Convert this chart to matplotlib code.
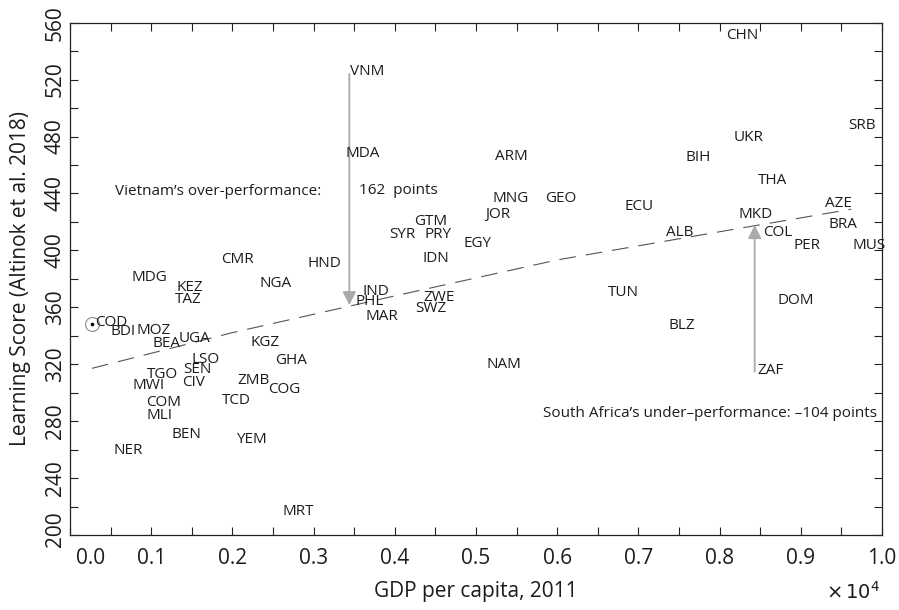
import numpy as np
import matplotlib
matplotlib.use("Agg")
import matplotlib.pyplot as plt
from matplotlib.ticker import MultipleLocator, FuncFormatter

plt.rcParams['font.family'] = ['Open Sans', 'DejaVu Sans']

# ---------------- data ----------------
codes = ["CHN", "SRB", "UKR", "BIH", "THA", "ECU", "AZE", "MKD", "BRA", "ALB",
         "COL", "PER", "MUS", "TUN", "DOM", "BLZ", "ZAF",
         "VNM", "MDA", "ARM", "MNG", "GEO", "JOR", "GTM", "SYR", "PRY",
         "EGY", "IDN", "IND", "PHL", "ZWE", "SWZ", "MAR", "NAM",
         "CMR", "HND", "MDG", "KEZ", "NGA", "TAZ", "COD", "BDI", "MOZ",
         "BEA", "UGA", "KGZ", "LSO", "GHA", "TGO", "SEN", "MWI", "CIV",
         "ZMB", "COG", "TCD", "COM", "MLI", "BEN", "YEM", "NER", "MRT"]
gdp = [8084, 9581, 8177, 7583, 8473, 6831, 9294, 8227, 9347, 7336,
       8534, 8916, 9631, 6626, 8707, 7365, 8461,
       3453, 3392, 5230, 5209, 5846, 5116, 4233, 3937, 4360,
       4840, 4335, 3601, 3518, 4356, 4254, 3638, 5132,
       1864, 2930, 756, 1314, 2336, 1289, 271, 498, 818,
       1022, 1342, 2222, 1502, 2521, 948, 1400, 768, 1379,
       2062, 2438, 1872, 932, 948, 1249, 2049, 530, 2623]
score = [552.6, 489.3, 480.6, 467.0, 450.2, 431.9, 434.2, 426.8, 419.7, 414.3,
         414.3, 404.5, 404.5, 371.7, 366.3, 348.3, 317.1,
         527.3, 469.4, 467.5, 438.2, 438.2, 426.5, 421.8, 412.4, 412.4,
         406.1, 395.6, 372.7, 365.6, 368.0, 360.4, 354.6, 320.9,
         395.1, 392.1, 382.2, 375.2, 378.0, 367.0, 348.1, 344.1, 344.8,
         336.3, 339.8, 337.0, 324.9, 324.2, 314.3, 317.6, 306.6, 308.9,
         310.1, 303.5, 296.1, 294.4, 285.5, 272.2, 268.7, 260.9, 217.6]

# fitted line (dashed), points read along it
fit_x = [270, 2000, 4000, 6000, 8000, 9620]
fit_y = [317.1, 342.2, 368.0, 393.3, 413.1, 428.9]

# arrows: (x, from, to)
vnm_arrow = (3440, 524.0, 361.5)
zaf_arrow = (8432, 314.8, 417.8)

TXT = "#1c1c1c"
FS_LAB = 11
FS_TICK = 15

# ---------------- figure ----------------
fig = plt.figure(figsize=(8.99, 6.10), dpi=100)
ax = fig.add_axes([70 / 899, (610 - 535) / 610, 812 / 899, 512.3 / 610])

ax.plot(fit_x, fit_y, color="#555555", lw=0.8, ls=(0, (15, 9)), zorder=1)

for code, x, y in zip(codes, gdp, score):
    off = (2, 3) if code == "COD" else (0, 0)   # COD sits beside its ringed point
    ax.annotate(code, (x, y), xytext=off, textcoords="offset points",
                fontsize=FS_LAB, color=TXT, ha="left", va="center_baseline", zorder=3)

# COD highlight
i = codes.index("COD")
ax.plot(gdp[i], score[i], "o", mfc="none", mec="#8a8a8a", ms=10, mew=0.8, zorder=2)
ax.plot(gdp[i], score[i], "o", color="black", ms=1.6, zorder=2)

for (ax_x, y0, y1) in (vnm_arrow, zaf_arrow):
    ax.annotate("", xy=(ax_x, y1), xytext=(ax_x, y0),
                arrowprops=dict(arrowstyle="-|>", color="#a9a9a9", lw=1.3,
                                mutation_scale=20, shrinkA=0, shrinkB=0), zorder=2)

ax.text(550, 442.9, "Vietnam\u2019s over-performance:", fontsize=FS_LAB, color=TXT,
        ha="left", va="center_baseline")
ax.text(3559, 443.6, "162  points", fontsize=FS_LAB, color=TXT, ha="left", va="center_baseline")
ax.text(5825, 286.7, "South Africa\u2019s under\u2013performance: \u2013104 points", fontsize=FS_LAB,
        color=TXT, ha="left", va="center_baseline")

# ---------------- axes ----------------
ax.set_xlim(0, 10000)
ax.set_ylim(200, 560)
ax.xaxis.set_major_locator(MultipleLocator(1000))
ax.xaxis.set_minor_locator(MultipleLocator(500))
ax.yaxis.set_major_locator(MultipleLocator(40))
ax.yaxis.set_minor_locator(MultipleLocator(20))
# first labels are drawn by hand, nudged inward as in the original
ax.xaxis.set_major_formatter(FuncFormatter(lambda v, p: "" if v == 0 else f"{v / 1e4:.1f}"))
ax.yaxis.set_major_formatter(FuncFormatter(lambda v, p: "" if v == 200 else f"{v:.0f}"))
XPAD, YPAD = 9.5, 3.0
ax.tick_params(which="both", direction="in", length=6, width=0.8, top=True, right=True,
               colors="#222222")
ax.tick_params(axis="x", labelsize=FS_TICK, labelcolor=TXT, pad=XPAD)
ax.tick_params(axis="y", labelsize=FS_TICK, labelcolor=TXT, pad=YPAD, labelrotation=90)
for lab in ax.get_yticklabels():
    lab.set_va("center")
for s in ax.spines.values():
    s.set_linewidth(0.9)
    s.set_color("#222222")

ax.annotate("0.0", xy=(0, 0), xycoords=ax.get_xaxis_transform(), xytext=(15, -XPAD),
            textcoords="offset points", ha="center", va="top", fontsize=FS_TICK, color=TXT)
ax.annotate("200", xy=(0, 200), xycoords=ax.get_yaxis_transform(), xytext=(-YPAD, 4),
            textcoords="offset points", ha="right", va="center", rotation=90,
            fontsize=FS_TICK, color=TXT)

fig.text(476 / 899, 1 - 592 / 610, "GDP per capita, 2011", fontsize=15, color=TXT,
         ha="center", va="center")
fig.text(21 / 899, 1 - 279 / 610, "Learning Score (Altinok et al. 2018)", fontsize=15,
         color=TXT, ha="center", va="center", rotation=90)
fig.text(880 / 899, 1 - 592 / 610, r"$\times\,10^4$", fontsize=14, color=TXT,
         ha="right", va="center")

fig.savefig("out.png", dpi=100)
